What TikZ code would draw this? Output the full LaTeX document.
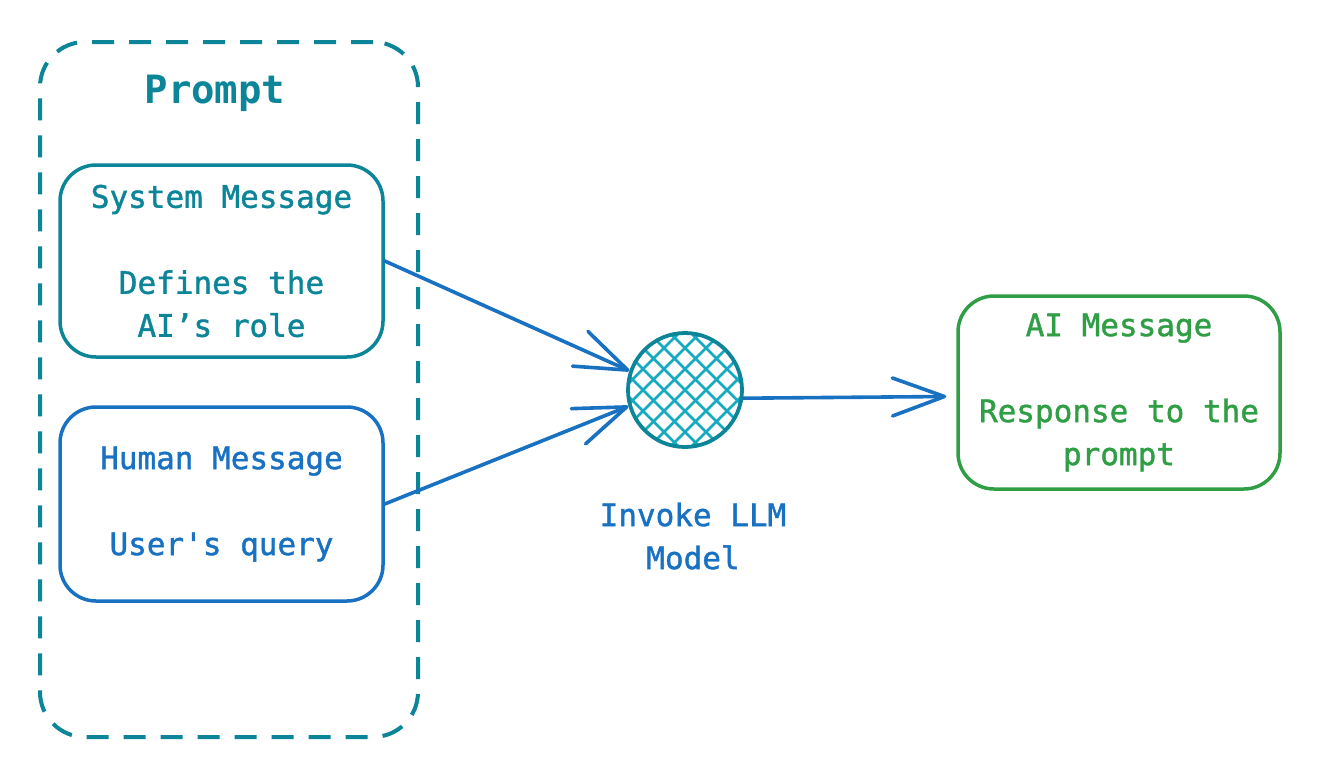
\documentclass[tikz,border=0pt]{standalone}
\usepackage{fontspec}
\setmonofont{DejaVu Sans Mono}
\newfontfamily\handmono[FakeBold=1.3]{DejaVu Sans Mono}
\usetikzlibrary{arrows.meta,calc}
\definecolor{teal8}{HTML}{0C8599}
\definecolor{teal6}{HTML}{15AABF}
\definecolor{blue8}{HTML}{1971C2}
\definecolor{green8}{HTML}{2F9E44}
\tikzset{
  msgbox/.style={draw, line width=3.5pt, rounded corners=36pt, minimum width=323pt, align=center,
    font=\handmono\fontsize{31}{43}\selectfont, inner sep=0pt},
  promptbox/.style={draw=teal8, line width=4pt, dash pattern=on 22pt off 15pt, rounded corners=45pt,
    minimum width=378pt, minimum height=695pt},
  arr/.style={draw=blue8, line width=3.6pt, line cap=round, line join=round,
    -{Straight Barb[length=52pt, width=38pt, line cap=round, line join=round]}},
  hatch/.style={draw=teal6, line width=2.6pt},
  lbl/.style={align=center, font=\handmono\fontsize{31}{43}\selectfont, inner sep=0pt},
}
\begin{document}
\begin{tikzpicture}[x=1pt,y=-1pt]
\useasboundingbox[fill=white] (0,0) rectangle (1331,780);
\node[promptbox] (prompt) at (229,389.5) {};
\node[text=teal8, font=\ttfamily\bfseries\fontsize{39}{44}\selectfont, inner sep=0pt] (ptitle) at (215,93) {Prompt};
\node[msgbox, draw=teal8, text=teal8, minimum height=192pt] (sys) at (221.5,261)
  {System Message\\[43pt]Defines the\\AI’s role};
\node[msgbox, draw=blue8, text=blue8, minimum height=194pt] (hum) at (221.5,504)
  {Human Message\\[43pt]User's query};
\node[msgbox, draw=green8, text=green8, minimum width=322pt, minimum height=193pt] (ai) at (1119,392.5)
  {AI Message\\[43pt]Response to the\\prompt};
\node[circle, draw=teal8, line width=3.8pt, minimum size=114pt, inner sep=0pt,
  path picture={
    \coordinate (c) at (path picture bounding box.center);
    \foreach \k in {-6,...,6}{
      \draw[hatch] ([xshift=\k*21pt]c) +(-80pt,-80pt) -- +(80pt,80pt);
      \draw[hatch] ([xshift=\k*21pt]c) +(-80pt,80pt) -- +(80pt,-80pt);
    }
  }] (llm) at (685,390) {};
\node[lbl, text=blue8] (llmlbl) at (693,536) {Invoke LLM\\Model};
\draw[arr] (sys.east) -- (llm.161);
\draw[arr] (hum.east) -- (llm.196);
\draw[arr] (llm.-8) -- ([xshift=-10pt,yshift=-4pt]ai.west);
\end{tikzpicture}
\end{document}
